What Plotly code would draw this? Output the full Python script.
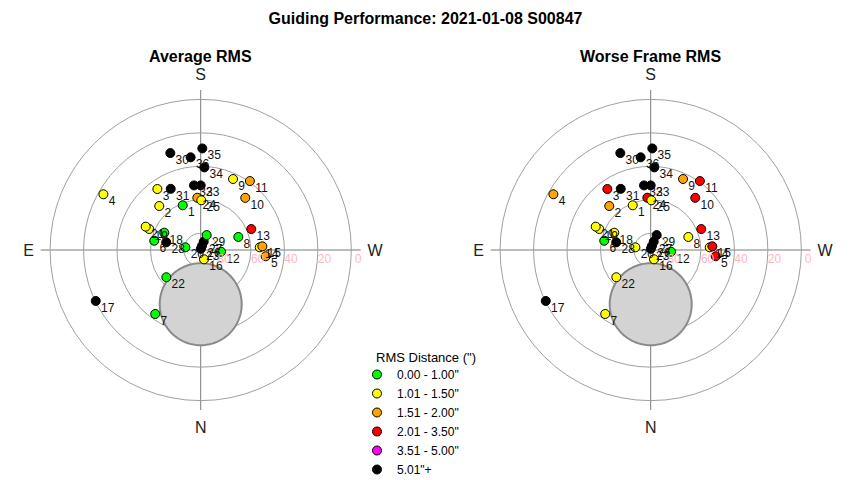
import math
import plotly.graph_objects as go

# ---------------- data ----------------
point_ids = [str(i) for i in range(1, 37)]
azimuth = [158.1, 136.7, 144.6, 119.8, 275.5, 101.3, 35.4, 250.9, 204.5, 220.5,
           215.5, 274.8, 247.5, 267.4, 266.6, 340.5, 64.1, 115.4, 112.2, 99.9,
           113.0, 51.6, 185.0, 176.3, 180.7, 197.2, 199.9, 102.6, 201.8, 162.6,
           153.9, 174.1, 180.0, 182.5, 180.9, 173.8]
altitude = [61.2, 53.9, 45.3, 23.0, 51.0, 61.7, 43.1, 66.2, 43.4, 49.0,
            39.4, 77.8, 57.3, 54.7, 53.1, 84.1, 20.3, 65.9, 56.8, 80.7,
            54.3, 63.8, 89.3, 58.7, 60.3, 87.4, 84.7, 68.9, 80.4, 29.3,
            49.3, 51.2, 51.4, 40.6, 29.3, 34.3]
# category index: 0 green, 1 yellow, 2 orange, 3 red, 4 magenta, 5 black
avg_category = [0, 1, 1, 1, 2, 0, 0, 0, 1, 2,
                2, 0, 3, 1, 2, 1, 5, 0, 1, 0,
                1, 0, 5, 2, 1, 5, 5, 5, 0, 5,
                5, 5, 5, 5, 5, 5]
worst_category = [1, 2, 3, 2, 3, 0, 1, 1, 2, 3,
                  3, 0, 3, 1, 3, 1, 5, 1, 1, 1,
                  1, 1, 5, 3, 1, 5, 5, 5, 5, 5,
                  5, 5, 5, 5, 5, 5]
category_labels = ['0.00 - 1.00"', '1.01 - 1.50"', '1.51 - 2.00"',
                   '2.01 - 3.50"', '3.51 - 5.00"', '5.01"+']
category_colors = ["#00FF00", "#FFFF00", "#FFA500", "#FF0000", "#FF00FF", "#000000"]

alt_ticks = [80, 60, 40, 20, 0]
compass_az = [0, 90, 180, 270]
compass_labels = ["N", "E", "S", "W"]

# grey exclusion zone (altitude of centre, azimuth of centre, radius in degrees)
zone_alt = 57.6
zone_az = 0.0
zone_radius = 24.5

panel_titles = ["Average RMS", "Worse Frame RMS"]
main_title = "Guiding Performance: 2021-01-08 S00847"
legend_title = "RMS Distance (\")"

# ---------------- helpers ----------------
FONT = "Liberation Sans, Arial, sans-serif"
W, H = 850, 480
OFF = 8  # default page margin of the html body
NBSP = "\u00a0"
centers = [(200.7 - OFF, 250.0 - OFF), (650.7 - OFF, 250.0 - OFF)]
R_PX = 160.0
R_MAX = 95.6

zd = [90 - a for a in altitude]

def zone_outline():
    czd = 90 - zone_alt
    rr, tt = [], []
    for k in range(181):
        t = 2 * math.pi * k / 180
        n = czd * math.cos(math.radians(zone_az)) + zone_radius * math.cos(t)
        e = czd * math.sin(math.radians(zone_az)) + zone_radius * math.sin(t)
        rr.append(math.hypot(n, e))
        tt.append(math.degrees(math.atan2(e, n)) % 360)
    return rr, tt

zr, zt = zone_outline()

fig = go.Figure()
polars = ["polar", "polar2"]
cats = [avg_category, worst_category]
for i, pname in enumerate(polars):
    fig.add_trace(go.Scatterpolar(
        r=zr, theta=zt, mode="lines", fill="toself",
        fillcolor="#D3D3D3", line=dict(color="#8A8A8A", width=2),
        hoverinfo="skip", showlegend=False, subplot=pname))
    fig.add_trace(go.Scatterpolar(
        r=zd, theta=azimuth, mode="markers",
        marker=dict(size=9, color=[category_colors[c] for c in cats[i]],
                    line=dict(color="#000000", width=1)),
        showlegend=False, subplot=pname))
    fig.add_trace(go.Scatterpolar(
        r=zd, theta=azimuth, mode="markers+text",
        text=point_ids, texttemplate=NBSP + "%{text}", textposition="bottom right",
        textfont=dict(family=FONT, size=12, color="#111111"),
        marker=dict(size=1.5, color="rgba(0,0,0,0)", line=dict(width=0)),
        hoverinfo="skip", showlegend=False, subplot=pname))

for lab, col in zip(category_labels, category_colors):
    fig.add_trace(go.Scatterpolar(
        r=[None], theta=[None], mode="markers", name=lab,
        marker=dict(size=9, color=col, line=dict(color="#000000", width=1)),
        subplot="polar"))

def polar_layout(cx, cy):
    return dict(
        domain=dict(x=[(cx - R_PX) / W, (cx + R_PX) / W],
                    y=[(H - cy - R_PX) / H, (H - cy + R_PX) / H]),
        bgcolor="white",
        radialaxis=dict(range=[0, R_MAX], tickvals=[90 - a for a in alt_ticks],
                        ticktext=[NBSP * 4 + str(a) for a in alt_ticks], showline=False,
                        ticks="", angle=0, side="clockwise", tickangle=0,
                        gridcolor="#A0A0A0", gridwidth=1,
                        tickfont=dict(family=FONT, size=12, color="#FFB6C1")),
        angularaxis=dict(rotation=270, direction="clockwise", tickvals=compass_az,
                         ticktext=compass_labels, showline=False, ticks="outside",
                         ticklen=3, tickcolor="rgba(0,0,0,0)",
                         gridcolor="#7A7A7A", gridwidth=1,
                         tickfont=dict(family=FONT, size=16, color="#222222")),
    )

annotations = []
for (cx, cy), t in zip(centers, panel_titles):
    annotations.append(dict(text=t, x=cx / W, y=(H - (57 - OFF)) / H, xref="paper",
                            yref="paper", showarrow=False, xanchor="center",
                            yanchor="middle",
                            font=dict(family=FONT, size=16, color="#000000", weight="bold")))
annotations.append(dict(text=legend_title, x=(374 - OFF) / W, y=(H - (357 - OFF)) / H,
                        xref="paper", yref="paper", showarrow=False, xanchor="left",
                        yanchor="middle",
                        font=dict(family=FONT, size=13, color="#000000")))

fig.update_layout(
    width=W, height=H,
    margin=dict(l=0, r=0, t=0, b=0, autoexpand=False),
    paper_bgcolor="white",
    polar=polar_layout(*centers[0]),
    polar2=polar_layout(*centers[1]),
    title=dict(text=main_title, x=(425.5 - OFF) / W, xanchor="center",
               y=1 - (18 - OFF) / H, yanchor="middle", yref="container",
               font=dict(family=FONT, size=16, color="#000000", weight="bold")),
    annotations=annotations,
    showlegend=True,
    legend=dict(x=(376 - OFF - 19) / W, y=(H - (374 - OFF - 14)) / H,
                xanchor="left", yanchor="top", bgcolor="rgba(0,0,0,0)",
                font=dict(family=FONT, size=12, color="#000000")),
)

fig.write_html("out.html")
